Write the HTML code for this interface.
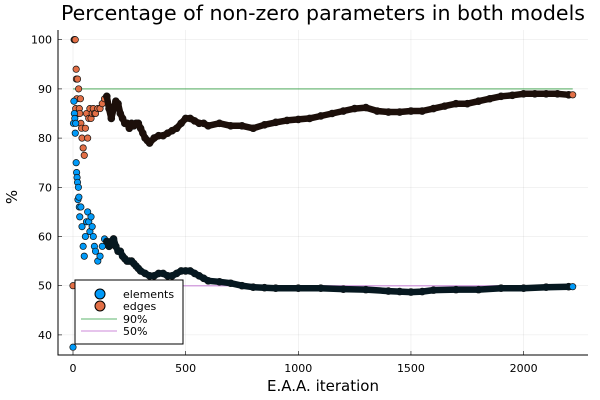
<!DOCTYPE html>
<html><head><meta charset="utf-8"><style>
html,body{margin:0;padding:0;background:#fff;}
svg{display:block;font-family:"DejaVu Sans","Liberation Sans",sans-serif;}
</style></head><body>
<svg id="chart" width="600" height="400" viewBox="0 0 600 400" xmlns="http://www.w3.org/2000/svg">
<rect width="600" height="400" fill="#fff"/>
<text x="323" y="20" font-size="20" text-anchor="middle" textLength="524" lengthAdjust="spacingAndGlyphs" fill="#000">Percentage of non-zero parameters in both models</text>
<g id="grid"></g>
<g id="refs"></g>
<g id="series"></g>
<g id="axes"></g>
<text x="323" y="391" font-size="15" text-anchor="middle">E.A.A. iteration</text>
<text x="0" y="0" font-size="15" text-anchor="middle" transform="translate(17,197) rotate(-90)">%</text>
<g>
<rect x="75" y="280" width="108" height="64" fill="#fff" stroke="#000" stroke-width="1"/>
<g><circle cx="100" cy="294" r="5" fill="#009af9" stroke="#000" stroke-width="1"/><text x="123" y="298" font-size="11">elements</text></g>
<g><circle cx="100" cy="306" r="5" fill="#e26f46" stroke="#000" stroke-width="1"/><text x="123" y="310" font-size="11">edges</text></g>
<g><line x1="81" y1="319" x2="117" y2="319" stroke="#3da44d" stroke-opacity="0.55" stroke-width="1.5"/><text x="123" y="323" font-size="11">90%</text></g>
<g><line x1="81" y1="331" x2="117" y2="331" stroke="#c271d2" stroke-opacity="0.55" stroke-width="1.5"/><text x="123" y="335" font-size="11">50%</text></g>
</g>
</svg>
<script>
const xTicks=[0,500,1000,1500,2000];
const yTicks=[40,50,60,70,80,90,100];
const elemIter=[0,2,4,6,8,10,12,14,16,18,20,22,24,26,28,30,35,40,45,50,55,60,65,70,75,80,85,90,95,100,110,120,130,140,150,160,170,180,190,200,210,220,230,240,250,260,270,280,290,300,320,340,360,380,400,420,440,460,480,500,520,540,560,580,600,650,700,750,800,850,900,1000,1100,1200,1300,1400,1450,1500,1550,1600,1700,1800,1900,2000,2100,2200,2218];
const elemVal=[37.5,83,87.5,85,84,81,83,75,73,72,71,67.5,70,68,66,64,66,62,58,56,60,63,65,63,61,64,62,60,58,57,55,56,58,59.5,59,58,59,59.5,58,57,57,56,55.5,55,55,55,54.5,54,53.5,53,52.5,52,52,52.5,52.5,52,52,52.5,53,53,53,52.5,52,51.5,51,50.8,50.5,50,49.7,49.6,49.5,49.5,49.5,49.3,49.2,48.9,48.8,48.7,48.8,49.1,49.2,49.2,49.5,49.5,49.7,49.8,49.8];
const edgeIter=[0,5,8,10,12,14,15,17,20,22,25,28,30,33,35,38,40,45,50,55,60,65,70,75,80,85,90,95,100,110,120,130,140,150,160,170,180,190,200,210,220,230,240,250,260,270,280,290,300,310,320,330,340,360,380,400,420,440,460,480,500,520,540,560,580,600,650,700,750,800,850,900,950,1000,1050,1100,1150,1200,1250,1300,1350,1400,1450,1500,1550,1600,1650,1700,1750,1800,1850,1900,1950,2000,2050,2100,2150,2200,2218];
const edgeVal=[50,100,100,100,86,94,92,88,92,85,90,86,85,88,83,82,80,78,76.5,82,85,80,84,86,84,85,86,85,85,86,86,87,88,88.5,86,84,86,87.5,87,85,84,83,83,82,83,82.5,83,83,82,81,80,79.5,79,80,80.5,80.5,81,81.5,82,83,84,84,83.5,83,83,82.5,83,82.5,82.5,82,82.7,83.2,83.6,83.8,84,84.5,85,85.5,86,86.2,85.5,85.3,85.3,85.5,85.5,86,86.5,87,87,87.5,88,88.5,88.7,89,89,89,89,88.8,88.8];
const refVals=[90,50];
const NS='http://www.w3.org/2000/svg';
const L=58,R=588,T=30,B=355;
function xs(v){return 73+v*0.2253;}
function ys(v){return 39.7+(100-v)*4.92;}
function mk(tag,attrs,parent){const e=document.createElementNS(NS,tag);for(const k in attrs)e.setAttribute(k,attrs[k]);parent.appendChild(e);return e;}
const grid=document.getElementById('grid'),axes=document.getElementById('axes'),refs=document.getElementById('refs'),series=document.getElementById('series');
xTicks.forEach(t=>{
  const g=mk('line',{x1:xs(t),x2:xs(t),y1:T,y2:B,stroke:'#000','stroke-opacity':0.1,'stroke-width':0.5},grid);
  
  
  const tk=mk('line',{x1:xs(t),x2:xs(t),y1:B,y2:B-4,stroke:'#000','stroke-width':0.6},axes);
  
  
  const lb=mk('text',{x:xs(t),y:372,'font-size':11,'text-anchor':'middle'},axes);lb.textContent=t;
  
  
});
yTicks.forEach(t=>{
  const g=mk('line',{x1:L,x2:R,y1:ys(t),y2:ys(t),stroke:'#000','stroke-opacity':0.1,'stroke-width':0.5},grid);
  
  
  const tk=mk('line',{x1:L,x2:L+4,y1:ys(t),y2:ys(t),stroke:'#000','stroke-width':0.6},axes);
  
  
  const lb=mk('text',{x:L-6,y:ys(t)+4,'font-size':11,'text-anchor':'end'},axes);lb.textContent=t;
  
  
});
const ax=mk('path',{d:`M${L} ${T}V${B}H${R}`,fill:'none',stroke:'#000','stroke-width':1},axes);


const refCols=['#3da44d','#c271d2'];
refVals.forEach((v,i)=>{
  const l=mk('line',{x1:xs(0),x2:xs(elemIter[elemIter.length-1]),y1:ys(v),y2:ys(v),stroke:refCols[i],'stroke-opacity':0.6,'stroke-width':1.5},refs);
  
  
});
function drawSeries(iters,vals,color,dark,name){
  const g=mk('g',{},series);
  
  
  let d='';
  iters.forEach((it,i)=>{if(it>=150){d+=(d?'L':'M')+xs(it).toFixed(1)+' '+ys(vals[i]).toFixed(1);}});
  iters.forEach((it,i)=>{
    const inBand=it>=150&&i!==iters.length-1;
    const c=mk('circle',{cx:xs(it),cy:ys(vals[i]),r:3.2,fill:inBand?dark:color,stroke:'#111','stroke-width':inBand?1.2:0.7},g);
    
    
  });
  const band=mk('path',{d:d,fill:'none',stroke:dark,'stroke-width':6.5,'stroke-linejoin':'round','stroke-linecap':'round'},g);
  
  
  const li=iters.length-1;
  const lc=mk('circle',{cx:xs(iters[li]),cy:ys(vals[li]),r:3,fill:color,stroke:'#222','stroke-width':0.5},g);
  
  
}
drawSeries(edgeIter,edgeVal,'#e26f46','#1c0f0a','edges');
drawSeries(elemIter,elemVal,'#009af9','#061820','elements');
</script>
</body></html>
